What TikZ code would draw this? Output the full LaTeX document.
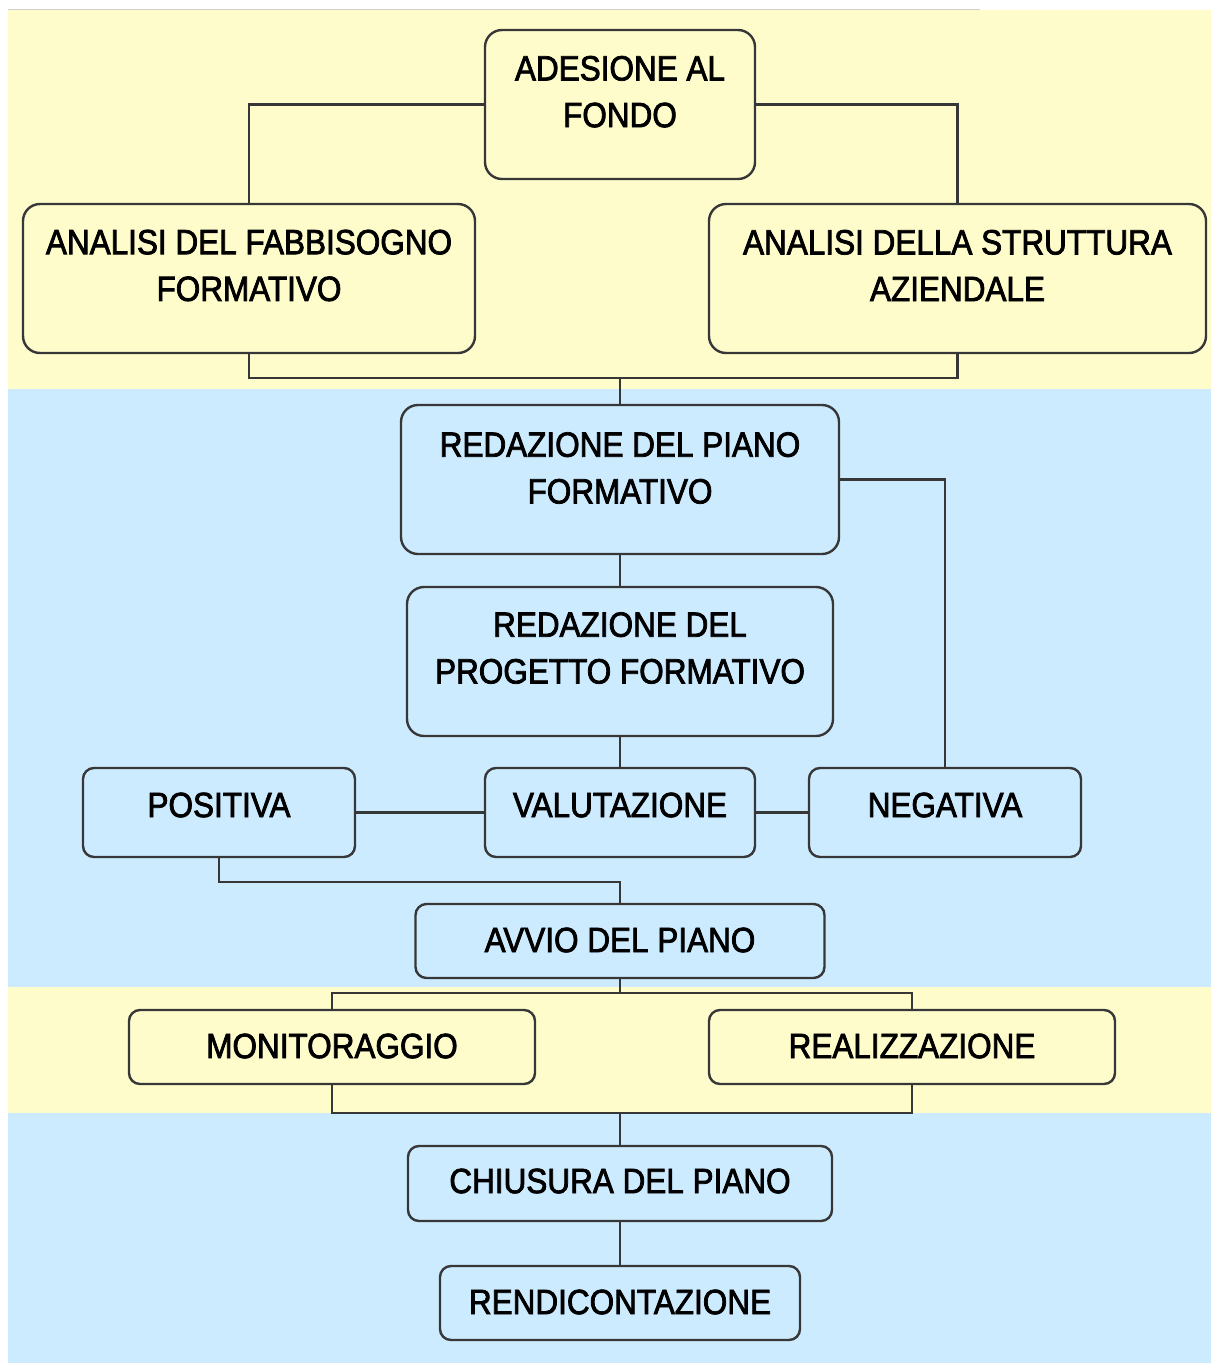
\documentclass[tikz,border=0pt]{standalone}
\usepackage{fontspec}
\setmainfont{Liberation Sans}[FakeStretch=0.9,FakeBold=2.2]
\definecolor{bandY}{RGB}{255,252,204}
\definecolor{bandB}{RGB}{204,235,255}
\definecolor{edge}{RGB}{55,55,55}
\definecolor{topline}{RGB}{205,205,205}
\begin{document}
\begin{tikzpicture}[x=1pt,y=-1pt,
  box/.style={draw=edge, line width=2.4pt, rounded corners=17pt, inner sep=0pt},
  sbox/.style={draw=edge, line width=2.4pt, rounded corners=11pt, inner sep=0pt},
  txt/.style={inner sep=0pt, align=center, text=black, font=\fontsize{35}{46.7}\selectfont},
  conn/.style={draw=edge, line width=2.2pt}]
\useasboundingbox (0,0) rectangle (1211,1363);
% background bands
\fill[bandY] (8,10) rectangle (1211,388.5);
\fill[bandB] (8,388.5) rectangle (1211,987);
\fill[bandY] (8,987) rectangle (1211,1113);
\fill[bandB] (8,1113) rectangle (1211,1363);
\draw[topline, line width=1.5pt] (8,9.5) -- (980,9.5);

% boxes
\node[box, fill=bandY, minimum width=270pt, minimum height=149pt] (adesione) at (620,104.5) {};
\node[box, fill=bandY, minimum width=452pt, minimum height=149pt] (fabb) at (249,278.5) {};
\node[box, fill=bandY, minimum width=497pt, minimum height=149pt] (strutt) at (957.5,278.5) {};
\node[box, fill=bandB, minimum width=438pt, minimum height=149pt] (piano) at (620,479.5) {};
\node[box, fill=bandB, minimum width=426pt, minimum height=149pt] (progetto) at (620,661.5) {};
\node[sbox, fill=bandB, minimum width=272pt, minimum height=89pt] (positiva) at (219,812.5) {};
\node[sbox, fill=bandB, minimum width=270pt, minimum height=89pt] (valutazione) at (620,812.5) {};
\node[sbox, fill=bandB, minimum width=272pt, minimum height=89pt] (negativa) at (945,812.5) {};
\node[sbox, fill=bandB, minimum width=409pt, minimum height=74pt] (avvio) at (620,941) {};
\node[sbox, fill=bandY, minimum width=406pt, minimum height=74pt] (monitor) at (332,1047) {};
\node[sbox, fill=bandY, minimum width=406pt, minimum height=74pt] (realizz) at (912,1047) {};
\node[sbox, fill=bandB, minimum width=424pt, minimum height=75pt] (chiusura) at (620,1183.5) {};
\node[sbox, fill=bandB, minimum width=360pt, minimum height=74pt] (rendi) at (620,1303) {};

% texts
\node[txt] (adesioneT) at (620,91.7) {ADESIONE AL\\FONDO};
\node[txt] (fabbT) at (249,265.5) {ANALISI DEL FABBISOGNO\\FORMATIVO};
\node[txt] (struttT) at (957.5,265.5) {ANALISI DELLA STRUTTURA\\AZIENDALE};
\node[txt] (pianoT) at (620,468) {REDAZIONE DEL PIANO\\FORMATIVO};
\node[txt] (progettoT) at (620,648) {REDAZIONE DEL\\PROGETTO FORMATIVO};
\node[txt] (positivaT) at (219,805) {POSITIVA};
\node[txt] (valutazioneT) at (620,805) {VALUTAZIONE};
\node[txt] (negativaT) at (945,805) {NEGATIVA};
\node[txt] (avvioT) at (620,940) {AVVIO DEL PIANO};
\node[txt] (monitorT) at (332,1046) {MONITORAGGIO};
\node[txt] (realizzT) at (912,1046) {REALIZZAZIONE};
\node[txt] (chiusuraT) at (620,1181) {CHIUSURA DEL PIANO};
\node[txt] (rendiT) at (620,1302) {RENDICONTAZIONE};

% junctions
\coordinate (j1) at (620,378);
\coordinate (j2) at (620,882);
\coordinate (j3) at (620,993);
\coordinate (j4) at (620,1113);

% connectors
\draw[conn] (adesione.west) -| (fabb.north);
\draw[conn] (adesione.east) -| (strutt.north);
\draw[conn] (fabb.south) |- (j1) -| (strutt.south);
\draw[conn] (j1) -- (piano.north);
\draw[conn] (piano.south) -- (progetto.north);
\draw[conn] (piano.east) -| (negativa.north);
\draw[conn] (progetto.south) -- (valutazione.north);
\draw[conn] (valutazione.west) -- (positiva.east);
\draw[conn] (valutazione.east) -- (negativa.west);
\draw[conn] (positiva.south) |- (j2) -- (avvio.north);
\draw[conn] (avvio.south) -- (j3);
\draw[conn] (monitor.north) |- (j3) -| (realizz.north);
\draw[conn] (monitor.south) |- (j4) -| (realizz.south);
\draw[conn] (j4) -- (chiusura.north);
\draw[conn] (chiusura.south) -- (rendi.north);
\end{tikzpicture}
\end{document}
